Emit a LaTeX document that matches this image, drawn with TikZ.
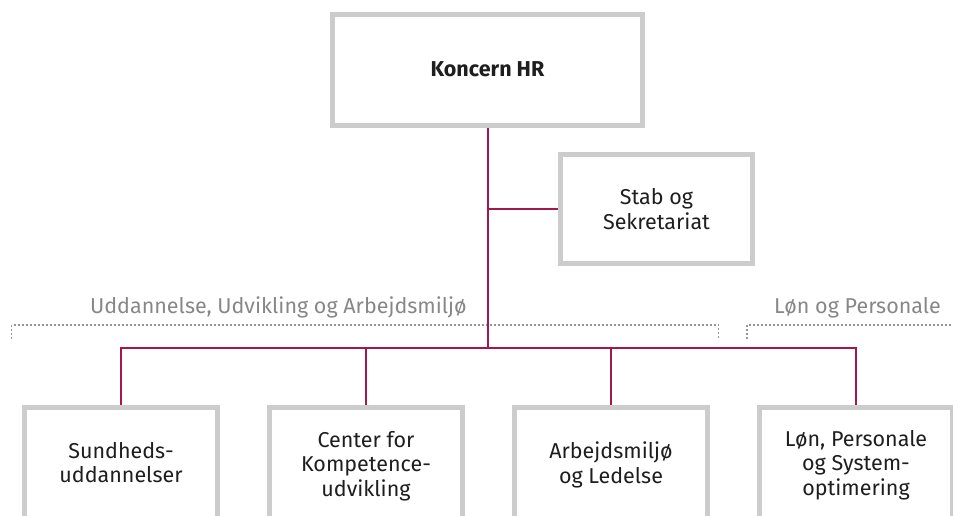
\documentclass[tikz,border=0pt]{standalone}
\usepackage{fontspec}
\setmainfont{Fira Sans}
\definecolor{connred}{RGB}{163,24,76}
\definecolor{boxgray}{RGB}{204,204,204}
\definecolor{labelgray}{RGB}{135,135,135}
\definecolor{dotgray}{RGB}{150,150,150}
\definecolor{txt}{RGB}{30,30,30}
\begin{document}
\begin{tikzpicture}[x=1pt,y=-1pt,
  frame/.style={draw=boxgray, line width=5pt, fill=white, rectangle, inner sep=0pt},
  boxtext/.style={font=\fontsize{21.5}{24.5}\selectfont, text=txt, align=center, inner sep=0pt},
  grouplabel/.style={font=\fontsize{21.5}{24}\selectfont, text=labelgray, inner sep=0pt},
  conn/.style={draw=connred, line width=1.5pt},
  dotline/.style={draw=dotgray, line width=1.3pt, dash pattern=on 2pt off 2pt}
]
\useasboundingbox (0,0) rectangle (953,515);
\clip (0,0) rectangle (953,515);

% top box
\node[frame, minimum width=310pt, minimum height=111pt] (hr) at (487.5,70) {};
\node[boxtext, font=\fontsize{21.5}{24.5}\selectfont\bfseries] (hrt) at (487.5,69) {Koncern HR};

% staff box
\node[frame, minimum width=192pt, minimum height=109pt] (stab) at (656.5,209) {};
\node[boxtext] (stabt) at (656.5,209) {Stab og\\Sekretariat};

% bottom frames (open at the bottom, clipped)
\foreach \n/\x in {b1/121, b2/366, b3/611, b4/856}{
  \node[frame, minimum width=193pt, minimum height=200pt, anchor=north] (\n) at (\x,405) {};
}
\node[boxtext] (t1) at (121,462.5) {Sundheds-\\uddannelser};
\node[boxtext] (t2) at (366,466) {Center for\\Kompetence-\\udvikling};
\node[boxtext] (t3) at (611,465) {Arbejdsmiljø\\og Ledelse};
\node[boxtext] (t4) at (856,465) {Løn, Personale\\og System-\\optimering};

% group labels
\node[grouplabel, anchor=base east] (g1) at (467,313) {Uddannelse, Udvikling og Arbejdsmiljø};
\node[grouplabel, anchor=base east] (g2) at (941,313) {Løn og Personale};

% dotted brackets
\draw[dotline] (11.5,339) -- (11.5,325) -- (718.5,325) -- (718.5,339);
\draw[dotline] (747,339) -- (747,325) -- (953,325);

% connectors
\coordinate (bus) at (488,348);
\draw[conn] (hr.south -| bus) -- (bus);
\draw[conn] (stab.west -| bus) -- (stab.west);
\draw[conn] (b1.north) -- (b1.north |- bus) -- (b4.north |- bus) -- (b4.north);
\draw[conn] (b2.north |- bus) -- (b2.north);
\draw[conn] (b3.north |- bus) -- (b3.north);
\end{tikzpicture}
\end{document}
